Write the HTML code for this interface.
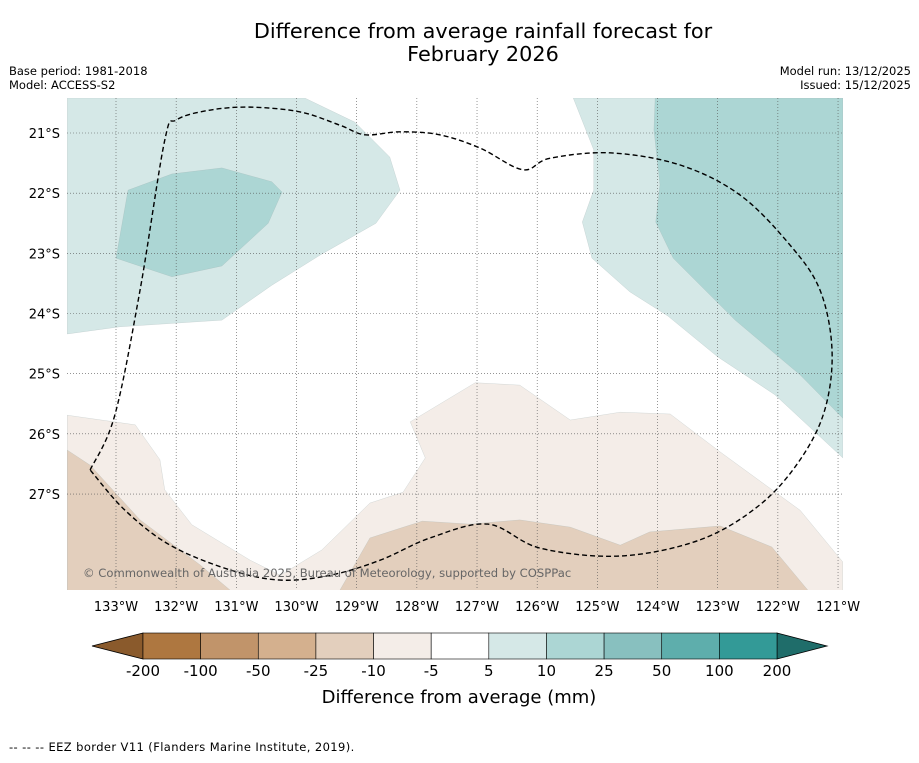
<!DOCTYPE html>
<html><head><meta charset="utf-8"><style>
body{margin:0;background:#fff;font-family:"Liberation Sans","DejaVu Sans",sans-serif}
svg text{font-family:"DejaVu Sans","Liberation Sans",sans-serif}
</style></head><body>
<svg id="chart" width="919" height="758" viewBox="0 0 919 758" xmlns="http://www.w3.org/2000/svg">
<rect width="919" height="758" fill="#fff"/>
<text x="483" y="38" font-size="20.8" text-anchor="middle">Difference from average rainfall forecast for</text>
<text x="483" y="61" font-size="20.8" text-anchor="middle">February 2026</text>
<text x="9" y="75" font-size="11.5">Base period: 1981-2018</text>
<text x="9" y="89" font-size="11.5">Model: ACCESS-S2</text>
<text x="911" y="75" font-size="11.5" text-anchor="end">Model run: 13/12/2025</text>
<text x="911" y="89" font-size="11.5" text-anchor="end">Issued: 15/12/2025</text>
<g id="map"></g>
<g id="cbar"></g>
<text x="459" y="703" font-size="18" text-anchor="middle">Difference from average (mm)</text>
<text x="9" y="751" font-size="11.5" letter-spacing="0.4">--  --  -- EEZ border V11 (Flanders Marine Institute, 2019).</text>
</svg>
<script>
const lonTicks=[-133,-132,-131,-130,-129,-128,-127,-126,-125,-124,-123,-122,-121];
const latTicks=[-21,-22,-23,-24,-25,-26,-27];
const cbarBounds=["-200","-100","-50","-25","-10","-5","5","10","25","50","100","200"];
const cbarColors=["#ae7740","#c1946a","#d4b08e","#e3cfbd","#f4ede8","#ffffff","#d5e8e7","#acd6d4","#88c0bf","#5eaeac","#339a97"];
const regions=[
 {name:"wet-region-nw-5-10",color:"#d5e8e7",pts:[[-133.81,-20.42],[-129.86,-20.42],[-129.03,-20.82],[-128.45,-21.4],[-128.28,-21.95],[-128.68,-22.5],[-129.61,-23.03],[-130.41,-23.53],[-131.24,-24.11],[-132.93,-24.22],[-133.81,-24.34]]},
 {name:"wet-region-nw-10-25",color:"#acd6d4",pts:[[-132.8,-21.95],[-132.07,-21.68],[-131.24,-21.58],[-130.41,-21.81],[-130.24,-21.98],[-130.47,-22.5],[-131.24,-23.21],[-132.07,-23.39],[-133,-23.08]]},
 {name:"wet-region-ne-5-10",color:"#d5e8e7",pts:[[-125.4,-20.42],[-120.92,-20.42],[-120.92,-26.4],[-122.05,-25.35],[-123,-24.72],[-123.83,-24.04],[-124.46,-23.64],[-125.09,-23.08],[-125.25,-22.48],[-125.06,-21.95],[-125.06,-21.28]]},
 {name:"wet-region-ne-10-25",color:"#acd6d4",pts:[[-124.04,-20.42],[-120.92,-20.42],[-120.92,-25.74],[-121.63,-25.02],[-122.71,-24.11],[-123.21,-23.61],[-123.74,-23.08],[-124.03,-22.48],[-123.96,-21.86],[-124.06,-20.95]]},
 {name:"dry-region-south-minus10",color:"#f4ede8",pts:[[-133.81,-25.69],[-132.68,-25.85],[-132.27,-26.43],[-132.19,-26.93],[-131.74,-27.51],[-130.77,-28.1],[-130.27,-28.35],[-129.58,-27.93],[-128.78,-27.15],[-128.23,-26.97],[-127.86,-26.4],[-128.11,-25.8],[-127.03,-25.15],[-126.29,-25.19],[-125.45,-25.77],[-124.62,-25.64],[-123.79,-25.67],[-122.96,-26.3],[-121.63,-27.27],[-120.92,-28.13],[-120.92,-28.6],[-133.81,-28.6]]},
 {name:"dry-region-sw-minus25",color:"#e3cfbd",pts:[[-133.81,-26.27],[-133.43,-26.52],[-132.6,-27.43],[-131.6,-28.18],[-131.1,-28.6],[-133.81,-28.6]]},
 {name:"dry-region-south-minus25",color:"#e3cfbd",pts:[[-129.28,-28.6],[-128.78,-27.73],[-127.91,-27.45],[-127.12,-27.5],[-126.29,-27.43],[-125.45,-27.55],[-124.62,-27.85],[-124.13,-27.63],[-122.96,-27.53],[-122.1,-27.88],[-121.5,-28.6]]}
];
const eez=[[-133.43,-26.6],[-133.02,-25.69],[-132.6,-23.61],[-132.19,-21.12],[-131.99,-20.78],[-131.44,-20.62],[-130.77,-20.57],[-129.94,-20.65],[-129.28,-20.87],[-128.86,-21.03],[-128.28,-20.98],[-127.62,-21.03],[-126.95,-21.25],[-126.24,-21.61],[-125.79,-21.42],[-124.79,-21.33],[-123.63,-21.53],[-122.63,-22.03],[-121.8,-22.86],[-121.3,-23.61],[-121.1,-24.61],[-121.22,-25.6],[-121.63,-26.43],[-122.3,-27.18],[-123.29,-27.76],[-124.62,-28.03],[-125.95,-27.9],[-126.82,-27.5],[-127.78,-27.73],[-128.61,-28.1],[-129.44,-28.35],[-130.27,-28.43],[-131.11,-28.26],[-132.1,-27.85],[-132.85,-27.27],[-133.43,-26.6]];
const NS="http://www.w3.org/2000/svg";
const L=67,R=843,T=98,B=590,K=60.17;
const X=lon=>116+(lon+133)*K;
const Y=lat=>133+(-lat-21)*K;
function mk(tag,at,parent){const e=document.createElementNS(NS,tag);for(const k in at)e.setAttribute(k,at[k]);parent.appendChild(e);return e;}
function smooth(p){let d='M'+p[0][0]+','+p[0][1];for(let i=0;i<p.length-1;i++){const a=p[Math.max(i-1,0)],b=p[i],c=p[i+1],e=p[Math.min(i+2,p.length-1)];d+=' C'+(b[0]+(c[0]-a[0])/6)+','+(b[1]+(c[1]-a[1])/6)+' '+(c[0]-(e[0]-b[0])/6)+','+(c[1]-(e[1]-b[1])/6)+' '+c[0]+','+c[1];}return d;}
const map=document.getElementById('map');
const clip=mk('clipPath',{id:'mc'},map);mk('rect',{x:L,y:T,width:R-L,height:B-T},clip);
const g=mk('g',{'clip-path':'url(#mc)'},map);
regions.forEach(r=>{
 const p=mk('polygon',{points:r.pts.map(q=>X(q[0])+','+Y(q[1])).join(' '),fill:r.color,stroke:'#9aa',"stroke-width":0.4,"stroke-opacity":0.5},g);
 
 
});
lonTicks.forEach(v=>{
 const l=mk('line',{x1:X(v),x2:X(v),y1:T,y2:B,stroke:'#555','stroke-width':0.6,'stroke-dasharray':'1,2'},g);
 
 
 const t=mk('text',{x:X(v),y:611,'font-size':13,'text-anchor':'middle'},map);
 t.textContent=Math.abs(v)+'°W';
 
 
});
latTicks.forEach(v=>{
 const l=mk('line',{x1:L,x2:R,y1:Y(v),y2:Y(v),stroke:'#555','stroke-width':0.6,'stroke-dasharray':'1,2'},g);
 
 
 const t=mk('text',{x:60,y:Y(v)+5,'font-size':13,'text-anchor':'end'},map);
 t.textContent=Math.abs(v)+'°S';
 
 
});
const ez=mk('path',{d:smooth(eez.map(q=>[X(q[0]),Y(q[1])])),fill:'none',stroke:'#000','stroke-width':1.4,'stroke-dasharray':'5,3'},g);


const cp=mk('text',{x:83,y:577,'font-size':11.6,fill:'#666'},map);
cp.textContent='© Commonwealth of Australia 2025, Bureau of Meteorology, supported by COSPPac';


const cb=document.getElementById('cbar');
const x0=143,x1=777,cy0=633,cy1=659,w=(x1-x0)/cbarColors.length;
const lt=mk('polygon',{points:`92,646 ${x0},${cy0} ${x0},${cy1}`,fill:'#8a5a2c',stroke:'#000','stroke-width':0.8},cb);


const rt=mk('polygon',{points:`827,646 ${x1},${cy0} ${x1},${cy1}`,fill:'#1f6d6a',stroke:'#000','stroke-width':0.8},cb);


cbarColors.forEach((c,i)=>{
 const r=mk('rect',{x:x0+i*w,y:cy0,width:w,height:cy1-cy0,fill:c,stroke:'#000','stroke-width':0.6},cb);
 
 
});
cbarBounds.forEach((s,i)=>{
 const t=mk('text',{x:x0+i*w,y:676,'font-size':15,'text-anchor':'middle'},cb);
 t.textContent=s;
 
 
});
</script>
</body></html>
